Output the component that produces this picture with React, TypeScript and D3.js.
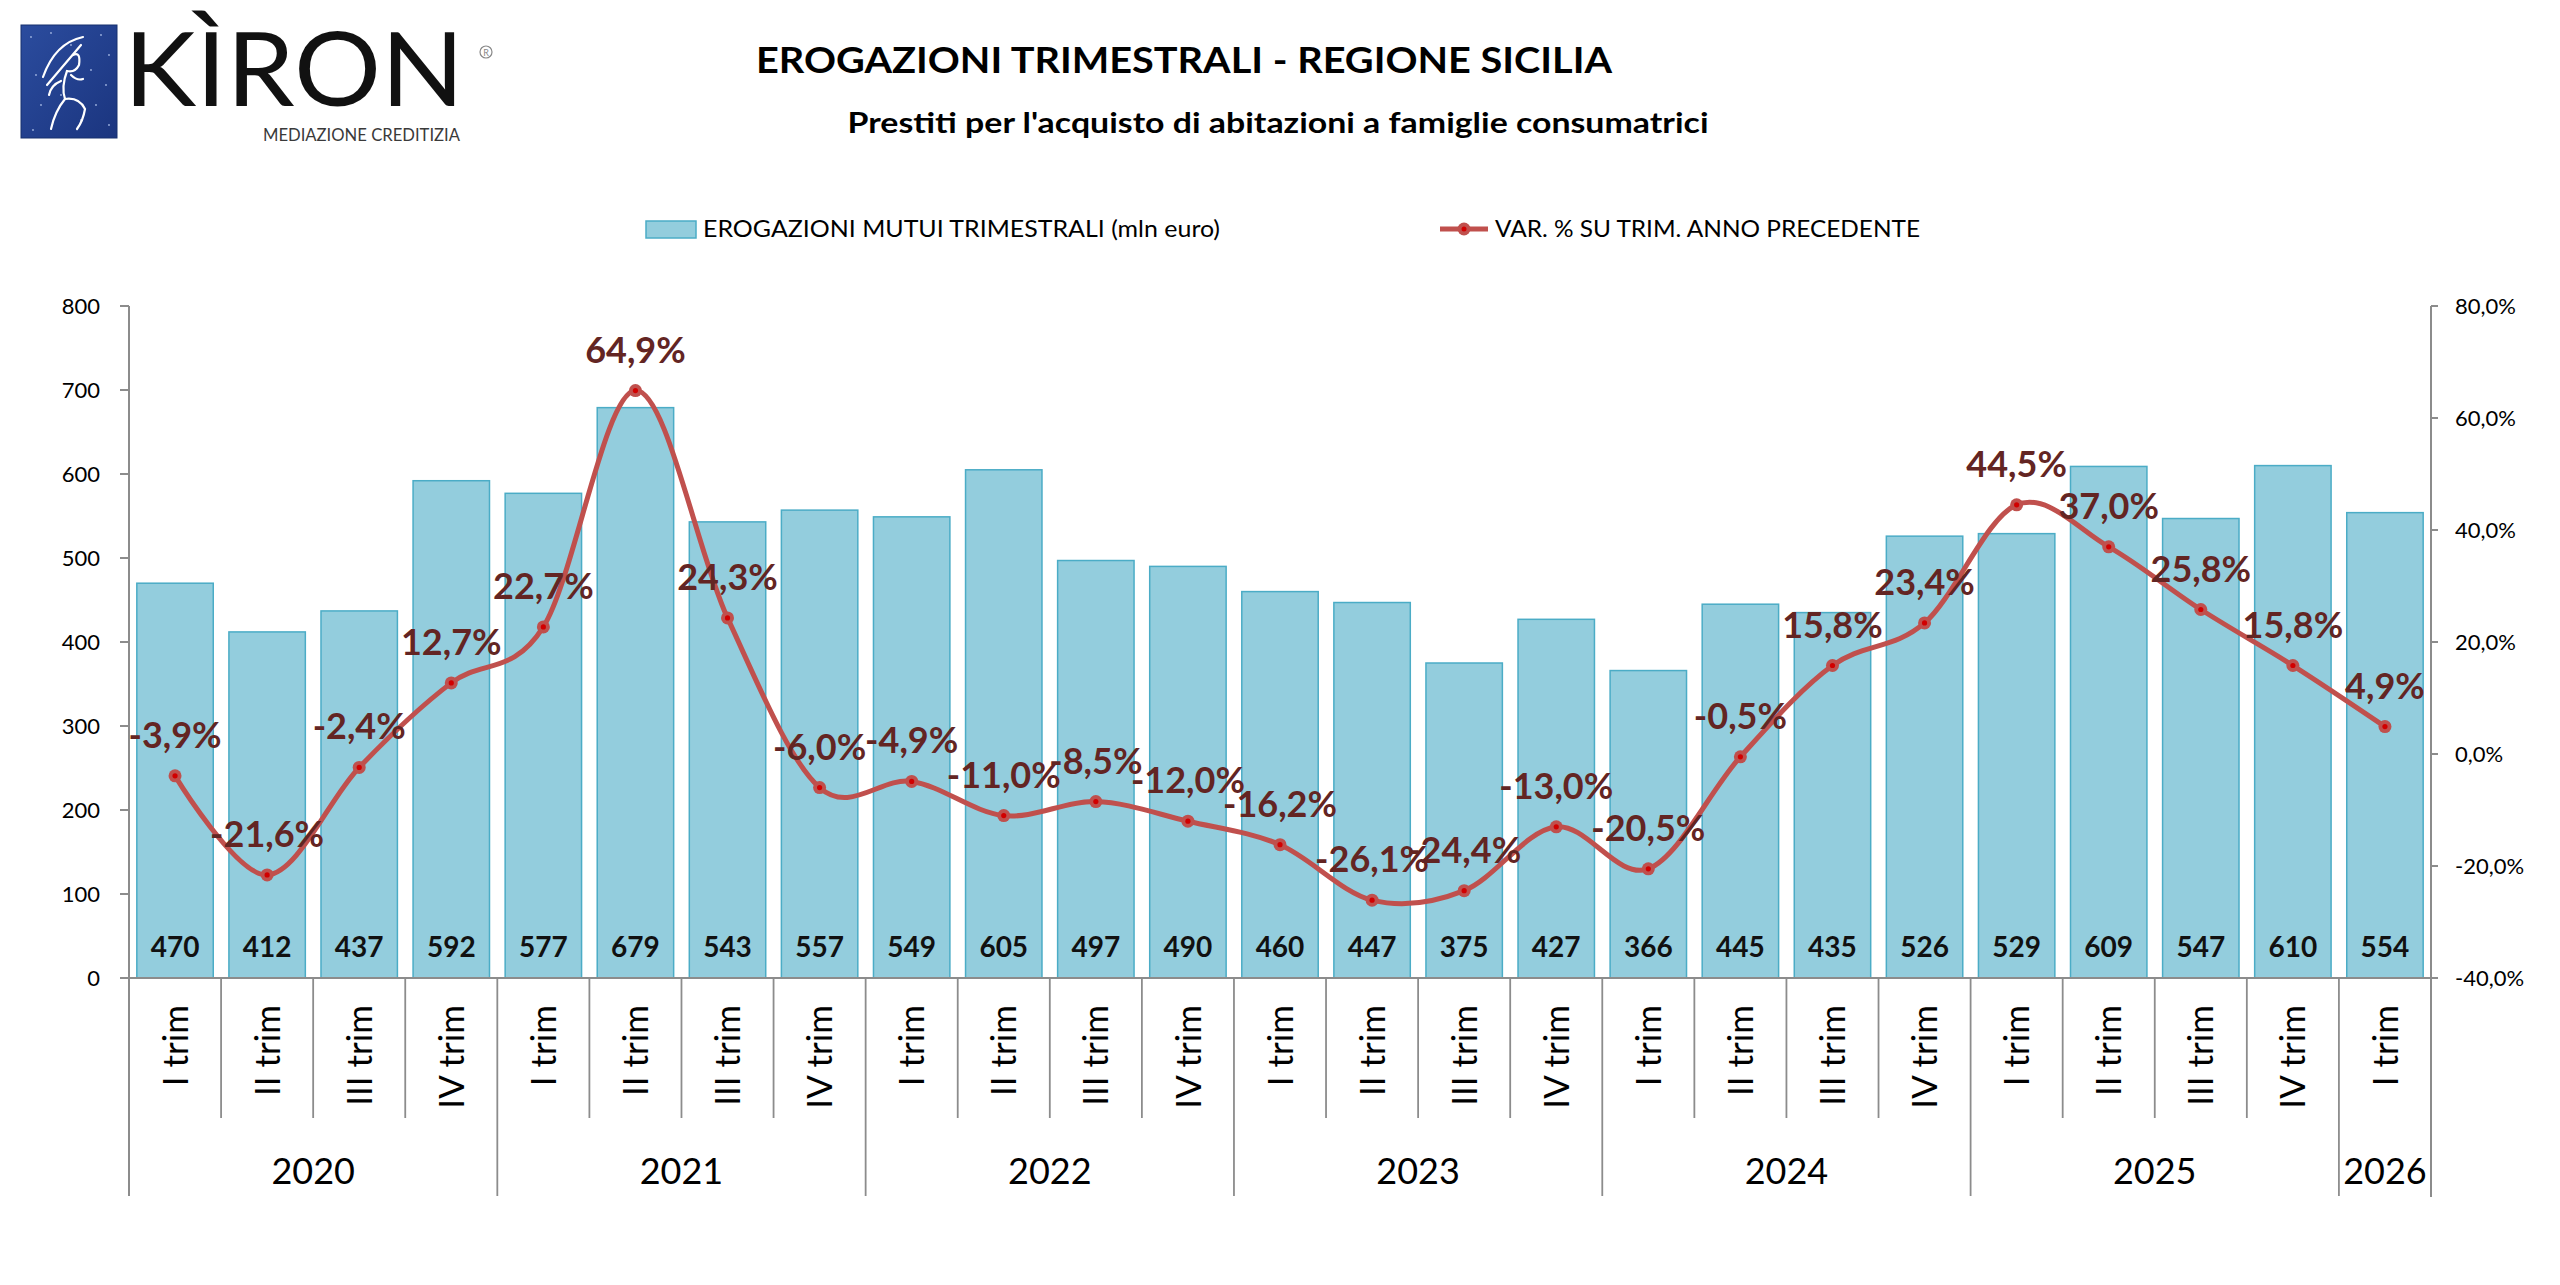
import React, { useEffect } from "react";
import * as d3 from "d3";

// ---------- DATA ----------
const quarterLabels = [
  "I trim", "II trim", "III trim", "IV trim",
  "I trim", "II trim", "III trim", "IV trim",
  "I trim", "II trim", "III trim", "IV trim",
  "I trim", "II trim", "III trim", "IV trim",
  "I trim", "II trim", "III trim", "IV trim",
  "I trim", "II trim", "III trim", "IV trim",
  "I trim",
];
const yearLabels = ["2020", "2021", "2022", "2023", "2024", "2025", "2026"];
const yearQuarterCounts = [4, 4, 4, 4, 4, 4, 1];
const erogazioni = [
  470, 412, 437, 592, 577, 679, 543, 557, 549, 605, 497, 490, 460, 447, 375,
  427, 366, 445, 435, 526, 529, 609, 547, 610, 554,
];
const variazioni = [
  -3.9, -21.6, -2.4, 12.7, 22.7, 64.9, 24.3, -6.0, -4.9, -11.0, -8.5, -12.0,
  -16.2, -26.1, -24.4, -13.0, -20.5, -0.5, 15.8, 23.4, 44.5, 37.0, 25.8, 15.8,
  4.9,
];
const leftTicks = [0, 100, 200, 300, 400, 500, 600, 700, 800];
const rightTicks = [-40, -20, 0, 20, 40, 60, 80];

const titleText = "EROGAZIONI TRIMESTRALI - REGIONE SICILIA";
const subtitleText = "Prestiti per l'acquisto di abitazioni a famiglie consumatrici";
const legendBarText = "EROGAZIONI MUTUI TRIMESTRALI (mln euro)";
const legendLineText = "VAR. % SU TRIM. ANNO PRECEDENTE";

// ---------- STYLE ----------
const W = 2560;
const H = 1285;
const FONT = "Lato, 'Open Sans', sans-serif";
const BAR_FILL = "#93CDDD";
const BAR_STROKE = "#4BACC6";
const LINE_COLOR = "#C0504D";
const DOT_COLOR = "#D10000";
const LABEL_COLOR = "#632523";
const AXIS_COLOR = "#8C8C8C";

const fmtPct = (v: number) => v.toFixed(1).replace(".", ",") + "%";

export default function App() {
  useEffect(() => {
    document.body.style.margin = "0";
  }, []);

  const plotLeft = 129;
  const plotRight = 2431;
  const plotTop = 306;
  const plotBottom = 978;

  const idx = erogazioni.map((_, i) => i);
  const x = d3
    .scaleBand<number>()
    .domain(idx)
    .range([plotLeft, plotRight])
    .paddingInner(0.17)
    .paddingOuter(0.085);
  const step = x.step();
  const center = (i: number) => (x(i) as number) + x.bandwidth() / 2;
  const boundary = (i: number) => plotLeft + i * step;

  const yL = d3.scaleLinear().domain([0, 800]).range([plotBottom, plotTop]);
  const yR = d3.scaleLinear().domain([-40, 80]).range([plotBottom, plotTop]);

  const line = d3
    .line<number>()
    .x((_, i) => center(i))
    .y((d) => yR(d))
    .curve(d3.curveCardinal.tension(0));

  // year boundaries
  const yearStarts: number[] = [];
  let acc = 0;
  yearQuarterCounts.forEach((c) => {
    yearStarts.push(acc);
    acc += c;
  });
  const yearBoundarySet = new Set<number>([...yearStarts, acc]);

  const stars = [
    [10, 12], [30, 8], [80, 10], [88, 30], [15, 50], [70, 45], [85, 60],
    [20, 80], [60, 95], [88, 100], [12, 105], [50, 20], [75, 80], [40, 70],
  ];

  return (
    <svg
      width={W}
      height={H}
      viewBox={`0 0 ${W} ${H}`}
      style={{ display: "block", position: "absolute", left: 0, top: 0, background: "#fff" }}
      fontFamily={FONT}
    >
      <rect x={0} y={0} width={W} height={H} fill="#ffffff" />

      {/* ---------- LOGO ---------- */}
      <defs>
        <linearGradient id="logoBlue" x1="0" y1="0" x2="1" y2="1">
          <stop offset="0%" stopColor="#2B4C9E" />
          <stop offset="100%" stopColor="#1B357F" />
        </linearGradient>
      </defs>
      <g transform="translate(21,25)">
        <rect x={0} y={0} width={96} height={113} fill="url(#logoBlue)" />
        {stars.map(([sx, sy], i) => (
          <circle key={i} cx={sx} cy={sy} r={0.9} fill="#9fb3e0" />
        ))}
        <g fill="none" stroke="#ffffff" strokeWidth={2.2} strokeLinecap="round">
          <path d="M22 52 Q 34 18 62 12" />
          <path d="M26 60 L 60 20" />
          <path d="M52 30 Q 60 26 58 40 Q 54 48 46 46" />
          <path d="M46 46 Q 40 62 44 74 Q 58 72 64 84 Q 62 96 56 104" />
          <path d="M44 74 Q 34 86 30 104" />
          <path d="M40 56 Q 30 60 28 70" />
          <path d="M50 50 Q 56 56 62 54" />
        </g>
        <rect x={0} y={0} width={96} height={113} fill="none" stroke="#16306f" strokeWidth={1} />
      </g>
      <text
        x={124}
        y={106}
        fontSize={102}
        fontFamily="Lato, 'DejaVu Sans', sans-serif"
        fontWeight={400}
        fill="#111"
        textLength={340}
        lengthAdjust="spacingAndGlyphs"
      >
        KÌRON
      </text>
      <text
        x={263}
        y={141}
        fontSize={17}
        fill="#3a3a3a"
        textLength={197}
        lengthAdjust="spacingAndGlyphs"
      >
        MEDIAZIONE CREDITIZIA
      </text>
      <circle cx={486} cy={52} r={6} fill="none" stroke="#888" strokeWidth={1.2} />
      <text x={486} y={55.5} fontSize={9} textAnchor="middle" fill="#888">
        R
      </text>

      {/* ---------- TITLES ---------- */}
      <text
        x={1184}
        y={73}
        textAnchor="middle"
        fontSize={37}
        fontWeight={700}
        fill="#000"
        textLength={856}
        lengthAdjust="spacingAndGlyphs"
      >
        {titleText}
      </text>
      <text
        x={1278}
        y={133}
        textAnchor="middle"
        fontSize={29}
        fontWeight={700}
        fill="#000"
        textLength={861}
        lengthAdjust="spacingAndGlyphs"
      >
        {subtitleText}
      </text>

      {/* ---------- LEGEND ---------- */}
      <rect x={646} y={221} width={50} height={17} fill={BAR_FILL} stroke={BAR_STROKE} strokeWidth={1.5} />
      <text x={703} y={237} fontSize={23} fill="#000" textLength={517} lengthAdjust="spacingAndGlyphs">
        {legendBarText}
      </text>
      <line x1={1440} x2={1488} y1={229} y2={229} stroke={LINE_COLOR} strokeWidth={5} />
      <circle cx={1464} cy={229} r={6.5} fill={LINE_COLOR} />
      <circle cx={1464} cy={229} r={2.5} fill={DOT_COLOR} />
      <text x={1495} y={237} fontSize={23} fill="#000" textLength={425} lengthAdjust="spacingAndGlyphs">
        {legendLineText}
      </text>

      {/* ---------- BARS ---------- */}
      {erogazioni.map((v, i) => (
        <rect
          key={`b${i}`}
          x={x(i) as number}
          y={yL(v)}
          width={x.bandwidth()}
          height={yL(0) - yL(v)}
          fill={BAR_FILL}
          stroke={BAR_STROKE}
          strokeWidth={1.5}
        />
      ))}
      {erogazioni.map((v, i) => (
        <text
          key={`bl${i}`}
          x={center(i)}
          y={957}
          textAnchor="middle"
          fontSize={28}
          fontWeight={700}
          fill="#111"
        >
          {v}
        </text>
      ))}

      {/* ---------- AXES ---------- */}
      {/* left axis */}
      <line x1={plotLeft} x2={plotLeft} y1={plotTop} y2={1196} stroke={AXIS_COLOR} strokeWidth={2} />
      {leftTicks.map((t) => (
        <g key={`lt${t}`}>
          <line x1={plotLeft - 9} x2={plotLeft} y1={yL(t)} y2={yL(t)} stroke={AXIS_COLOR} strokeWidth={2} />
          <text x={100} y={yL(t)} dy="0.36em" textAnchor="end" fontSize={22} fill="#000">
            {t}
          </text>
        </g>
      ))}
      {/* right axis */}
      <line x1={plotRight} x2={plotRight} y1={plotTop} y2={1197} stroke={AXIS_COLOR} strokeWidth={2} />
      {rightTicks.map((t) => (
        <g key={`rt${t}`}>
          <line x1={plotRight} x2={plotRight + 7} y1={yR(t)} y2={yR(t)} stroke={AXIS_COLOR} strokeWidth={2} />
          <text x={2455} y={yR(t)} dy="0.36em" textAnchor="start" fontSize={22} fill="#000">
            {fmtPct(t)}
          </text>
        </g>
      ))}
      {/* bottom axis */}
      <line x1={plotLeft - 9} x2={plotRight} y1={plotBottom} y2={plotBottom} stroke={AXIS_COLOR} strokeWidth={2} />
      {d3.range(1, erogazioni.length).map((i) => (
        <line
          key={`ct${i}`}
          x1={boundary(i)}
          x2={boundary(i)}
          y1={plotBottom}
          y2={yearBoundarySet.has(i) ? 1196 : 1118}
          stroke={AXIS_COLOR}
          strokeWidth={1.8}
        />
      ))}
      {quarterLabels.map((q, i) => (
        <text
          key={`ql${i}`}
          transform={`translate(${center(i)},1005) rotate(-90)`}
          textAnchor="end"
          dy="0.36em"
          fontSize={35}
          fill="#000"
        >
          {q}
        </text>
      ))}
      {yearLabels.map((yl, k) => {
        const s = yearStarts[k];
        const e = s + yearQuarterCounts[k];
        return (
          <text
            key={`yl${k}`}
            x={(boundary(s) + boundary(e)) / 2}
            y={1184}
            textAnchor="middle"
            fontSize={36}
            fill="#000"
          >
            {yl}
          </text>
        );
      })}

      {/* ---------- LINE ---------- */}
      <path d={line(variazioni) || ""} fill="none" stroke={LINE_COLOR} strokeWidth={5} strokeLinejoin="round" />
      {variazioni.map((v, i) => (
        <g key={`m${i}`}>
          <circle cx={center(i)} cy={yR(v)} r={6.5} fill={LINE_COLOR} />
          <circle cx={center(i)} cy={yR(v)} r={2.6} fill={DOT_COLOR} />
        </g>
      ))}
      {variazioni.map((v, i) => (
        <text
          key={`vl${i}`}
          x={center(i)}
          y={yR(v) - 28}
          textAnchor="middle"
          fontSize={36}
          fontWeight={700}
          fill={LABEL_COLOR}
        >
          {fmtPct(v)}
        </text>
      ))}
    </svg>
  );
}
